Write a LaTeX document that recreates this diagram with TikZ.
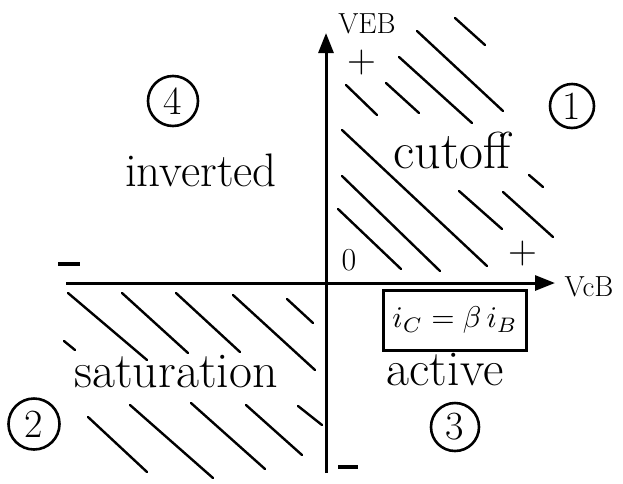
\documentclass[tikz,border=0pt]{standalone}
\usepackage{graphicx}
\usetikzlibrary{arrows.meta}
\begin{document}
\begin{tikzpicture}[x=1pt,y=-1pt,
  axis/.style={line width=3pt,-{Triangle[length=20pt,width=15pt]}},
  hatch/.style={line width=2.4pt,line cap=round},
  region/.style={inner sep=0pt,font=\fontsize{50}{56}\selectfont},
  numcirc/.style={circle,draw,line width=2.6pt,inner sep=0pt,font=\fontsize{40}{44}\selectfont},
  sign/.style={inner sep=0pt,font=\fontsize{40}{44}\selectfont},
  axlabel/.style={inner sep=0pt,font=\fontsize{29}{32}\selectfont},
  formula/.style={draw,line width=3pt,inner sep=0pt,minimum width=143pt,minimum height=60pt}]
\useasboundingbox (0,0) rectangle (623,483);
% axes
\coordinate (xs) at (66,283);
\coordinate (xe) at (555,283);
\coordinate (ys) at (326,473);
\coordinate (ye) at (326,33);
\draw[axis] (xs) -- (xe);
\draw[axis] (ys) -- (ye);
% hatching, quadrant 1
\foreach \a/\b/\c/\d in {455/18/485/45, 417/31/503/111, 399/57/472/123, 386/83/419/113,
  346/85/377/115, 342/130/487/266, 342/176/440/271, 338/209/401/269,
  459/191/502/229, 503/192/553/237, 529/175/543/187}
  \draw[hatch] (\a,\b) -- (\c,\d);
% hatching, quadrant 3
\foreach \a/\b/\c/\d in {68/293/147/360, 122/293/188/353, 176/293/240/352, 233/295/315/370,
  287/299/313/323, 64/341/75/350, 88/417/147/472, 130/405/213/478,
  191/403/265/469, 246/405/302/455, 298/406/322/425}
  \draw[hatch] (\a,\b) -- (\c,\d);
% axis labels and signs
\node[axlabel] (veb) at (367,24) {VEB};
\node[axlabel] (vcb) at (589,287) {VcB};
\node[sign] (pv) at (362,63) {+};
\node[sign] (ph) at (523,254) {+};
\node[sign] (mh) at (69,264) {\rule{22pt}{4.5pt}};
\node[sign] (mv) at (348,467) {\rule{20pt}{4.5pt}};
\node[axlabel,font=\fontsize{32}{36}\selectfont] (zero) at (349,260) {0};
% region labels
\node[region,font=\fontsize{47}{52}\selectfont] (inv) at (201,170) {inverted};
\node[region,font=\fontsize{52}{58}\selectfont] (cut) at (452,150) {cutoff};
\node[region] (sat) at (176,372) {saturation};
\node[region] (act) at (445,370) {active};
% numbers
\node[numcirc,minimum size=50pt] (n4) at (173,101) {4};
\node[numcirc,minimum size=44pt] (n1) at (572,106) {1};
\node[numcirc,minimum size=51pt] (n2) at (34,424) {2};
\node[numcirc,minimum size=48pt] (n3) at (455,427) {3};
% formula box
\node[formula] (box) at (455,320) {\scalebox{3.0}{$i_C=\beta\, i_B$}};
\end{tikzpicture}
\end{document}
